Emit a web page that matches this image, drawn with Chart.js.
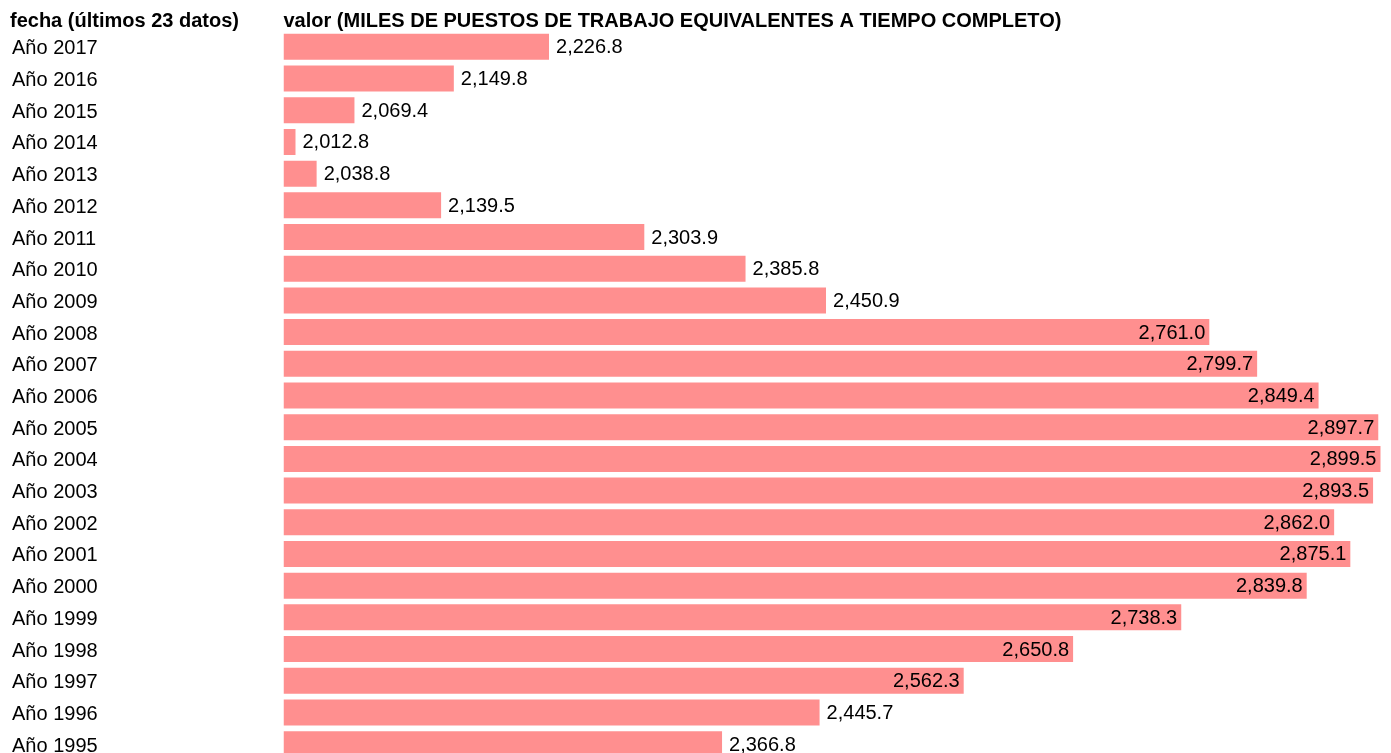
<!DOCTYPE html>
<html>
<head>
  <meta charset="utf-8" />
  <title>Puestos de trabajo</title>
  <style>
    html, body { margin: 0; padding: 0; overflow: hidden; background: #fff; }
    canvas { display: block; }
  </style>
</head>
<body>
  <canvas id="stage" width="1391" height="772"></canvas>

  <script src="https://cdn.jsdelivr.net/npm/chart.js@4.4.0/dist/chart.umd.min.js"></script>
  <script>
    // años (de más reciente a más antiguo) y valores en miles de puestos
    const years = ['Año 2017', 'Año 2016', 'Año 2015', 'Año 2014', 'Año 2013', 'Año 2012',
      'Año 2011', 'Año 2010', 'Año 2009', 'Año 2008', 'Año 2007', 'Año 2006', 'Año 2005',
      'Año 2004', 'Año 2003', 'Año 2002', 'Año 2001', 'Año 2000', 'Año 1999', 'Año 1998',
      'Año 1997', 'Año 1996', 'Año 1995'];
    const valores = [2226.8, 2149.8, 2069.4, 2012.8, 2038.8, 2139.5, 2303.9, 2385.8, 2450.9,
      2761.0, 2799.7, 2849.4, 2897.7, 2899.5, 2893.5, 2862.0, 2875.1, 2839.8, 2738.3,
      2650.8, 2562.3, 2445.7, 2366.8];
    const headers = ['fecha (últimos 23 datos)', 'valor (MILES DE PUESTOS DE TRABAJO EQUIVALENTES A TIEMPO COMPLETO)'];

    const FONT = '"Liberation Sans", Arial, sans-serif';
    const X_MIN = 2012;
    const X_MAX = 2908;

    const fmt = v => v.toLocaleString('en-US', { minimumFractionDigits: 1, maximumFractionDigits: 1 });

    // etiquetas de valor y cabeceras
    const labelPlugin = {
      id: 'labels',
      afterDatasetsDraw(chart) {
        const ctx = chart.ctx;
        const meta = chart.getDatasetMeta(0);
        const mid = (X_MIN + X_MAX) / 2;
        ctx.save();
        ctx.font = '20px ' + FONT;
        ctx.fillStyle = '#000';
        ctx.textBaseline = 'middle';
        meta.data.forEach((bar, i) => {
          const v = valores[i];
          if (v > mid) {
            ctx.textAlign = 'right';
            ctx.fillText(fmt(v), bar.x - 4, bar.y + 1);
          } else {
            ctx.textAlign = 'left';
            ctx.fillText(fmt(v), bar.x + 7, bar.y + 1);
          }
        });
        ctx.font = 'bold 20px ' + FONT;
        ctx.textAlign = 'left';
        ctx.fillText(headers[0], 10, 21);
        ctx.fillText(headers[1], chart.chartArea.left, 21);
        ctx.restore();
      }
    };

    new Chart(document.getElementById('stage'), {
      type: 'bar',
      data: {
        labels: years,
        datasets: [{
          data: valores,
          backgroundColor: '#ff8f8f',
          borderWidth: 0,
          barPercentage: 0.82,
          categoryPercentage: 1,
          base: X_MIN,
          minBarLength: 12
        }]
      },
      options: {
        indexAxis: 'y',
        responsive: false,
        animation: false,
        layout: { padding: { top: 31, left: 12, right: 0, bottom: 0 } },
        plugins: { legend: { display: false }, tooltip: { enabled: false } },
        scales: {
          x: { display: false, min: X_MIN, max: X_MAX },
          y: {
            grid: { display: false },
            border: { display: false },
            afterFit(scale) { scale.width = 271.5; },
            ticks: {
              crossAlign: 'far',
              padding: 0,
              labelOffset: 2,
              color: '#000',
              font: { family: FONT, size: 20 }
            }
          }
        }
      },
      plugins: [labelPlugin]
    });
  </script>
</body>
</html>
